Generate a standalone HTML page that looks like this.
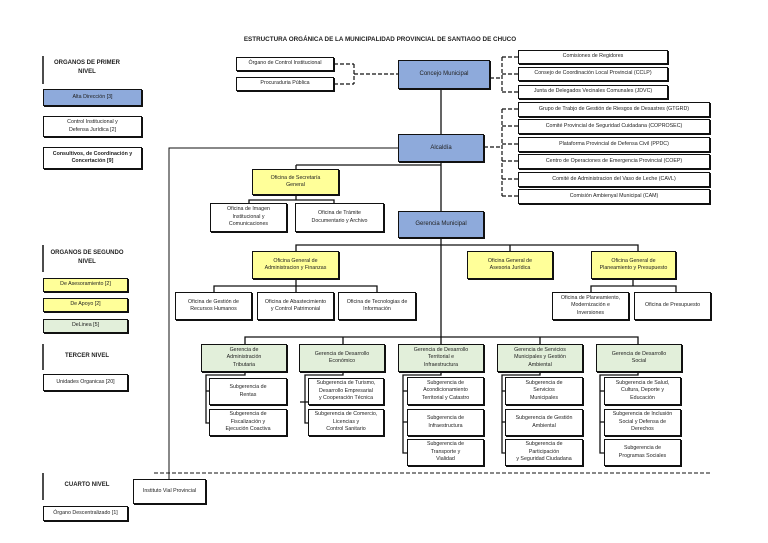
<!DOCTYPE html>
<html><head><meta charset="utf-8"><style>
*{margin:0;padding:0;box-sizing:border-box}
body{width:768px;height:543px;background:#fff;position:relative;overflow:hidden;font-family:"Liberation Sans",sans-serif;color:#222}
.b{position:absolute;border:1px solid #111;box-shadow:1px 1px 0 #111;background:#fff;display:flex;align-items:center;justify-content:center;text-align:center;font-size:5.3px;line-height:1.4;padding:0 1px;z-index:2}
.bl{background:#8eaadb;font-size:6px}
.y{background:#ffff99}
.g{background:#e2efda}
.t{position:absolute;font-size:6px;font-weight:bold;text-align:center;z-index:2;line-height:1.5}
svg{position:absolute;left:0;top:0;z-index:1}
</style></head><body>
<svg width="768" height="543" stroke="#111" fill="none">
<!-- legend bars -->
<g stroke-width="1.5">
<line x1="43" y1="56" x2="43" y2="84"/><line x1="43" y1="245" x2="43" y2="272"/>
<line x1="43" y1="344" x2="43" y2="370"/><line x1="43" y1="473" x2="43" y2="500"/>
</g>
<!-- dashed top-left -->
<g stroke-width="1.2" stroke-dasharray="4,2">
<line x1="334" y1="64" x2="354" y2="64"/><line x1="334" y1="84" x2="354" y2="84"/>
<line x1="354" y1="64" x2="354" y2="84"/><line x1="354" y1="74" x2="398" y2="74"/>
<line x1="490" y1="78" x2="502" y2="78"/><line x1="502" y1="57" x2="502" y2="92"/>
<line x1="502" y1="57" x2="518" y2="57"/><line x1="502" y1="74" x2="518" y2="74"/><line x1="502" y1="92" x2="518" y2="92"/>
<line x1="484" y1="147" x2="502" y2="147"/><line x1="502" y1="109" x2="502" y2="196"/>
<line x1="502" y1="109" x2="518" y2="109"/><line x1="502" y1="126" x2="518" y2="126"/><line x1="502" y1="144" x2="518" y2="144"/>
<line x1="502" y1="161" x2="518" y2="161"/><line x1="502" y1="179" x2="518" y2="179"/><line x1="502" y1="196" x2="518" y2="196"/>
<line x1="154" y1="473" x2="712" y2="473" stroke-width="1"/>
</g>
<g stroke-width="1.3">
<line x1="441" y1="89" x2="441" y2="134"/><line x1="441" y1="162" x2="441" y2="211"/><line x1="441" y1="238" x2="441" y2="344"/>
<polyline points="169,479 169,148 398,148" stroke-width="1"/>
<line x1="296" y1="165" x2="441" y2="165"/><line x1="296" y1="165" x2="296" y2="169"/>
<polyline points="249,203 249,200 334,200 334,203"/><line x1="296" y1="195" x2="296" y2="200"/>
<polyline points="296,251 296,245 638,245 638,251"/><line x1="510" y1="245" x2="510" y2="251"/>
<polyline points="214,292 214,286 377,286 377,292"/><line x1="296" y1="279" x2="296" y2="286"/><line x1="296" y1="286" x2="296" y2="292"/>
<polyline points="591,292 591,286 676,286 676,292"/><line x1="633" y1="279" x2="633" y2="286"/>
<polyline points="245,344 245,337 638,337 638,344"/><line x1="343" y1="337" x2="343" y2="344"/><line x1="540" y1="337" x2="540" y2="344"/>
<!-- sub brackets -->
<polyline points="245,372 245,375 206,375 206,423 209,423"/><line x1="206" y1="391" x2="209" y2="391"/>
<polyline points="343,372 343,375 305,375 305,423 308,423"/><line x1="300" y1="402" x2="308" y2="402"/>
<polyline points="441,372 441,375 403,375 403,453 407,453"/><line x1="403" y1="391" x2="407" y2="391"/><line x1="403" y1="422" x2="407" y2="422"/>
<polyline points="540,372 540,375 502,375 502,453 505,453"/><line x1="502" y1="391" x2="505" y2="391"/><line x1="502" y1="422" x2="505" y2="422"/>
<polyline points="638,372 638,375 600,375 600,453 604,453"/><line x1="600" y1="391" x2="604" y2="391"/><line x1="600" y1="422" x2="604" y2="422"/>
</g>
</svg>

<div class="t" style="left:200px;top:35px;width:360px;font-size:6.3px">ESTRUCTURA ORGÁNICA DE LA MUNICIPALIDAD PROVINCIAL DE SANTIAGO DE CHUCO</div>

<div class="t" style="left:47px;top:59px;width:80px">ORGANOS DE PRIMER<br>NIVEL</div>
<div class="b bl" style="left:43px;top:89px;width:99px;height:17px;font-size:5.3px">Alta Dirección [3]</div>
<div class="b" style="left:43px;top:116px;width:99px;height:21px">Control Institucional y<br>Defensa Jurídica [2]</div>
<div class="b" style="left:43px;top:147px;width:99px;height:22px;font-weight:bold">Consultivos, de Coordinación y<br>Concertación [9]</div>
<div class="t" style="left:46px;top:249px;width:82px">ORGANOS DE SEGUNDO<br>NIVEL</div>
<div class="b y" style="left:43px;top:278px;width:85px;height:14px">De Asesoramiento [2]</div>
<div class="b y" style="left:43px;top:298px;width:85px;height:14px">De Apoyo [2]</div>
<div class="b g" style="left:43px;top:319px;width:85px;height:14px">DeLinea [5]</div>
<div class="t" style="left:46px;top:352px;width:82px">TERCER NIVEL</div>
<div class="b" style="left:43px;top:374px;width:85px;height:17px">Unidades Organicas [20]</div>
<div class="t" style="left:46px;top:481px;width:82px">CUARTO NIVEL</div>
<div class="b" style="left:43px;top:506px;width:85px;height:15px">Órgano Descentralizado [1]</div>

<div class="b" style="left:236px;top:57px;width:98px;height:14px">Órgano de Control Institucional</div>
<div class="b" style="left:236px;top:77px;width:98px;height:14px">Procuraduria Pública</div>
<div class="b bl" style="left:398px;top:60px;width:92px;height:29px">Concejo Municipal</div>
<div class="b" style="left:518px;top:50px;width:150px;height:14px">Comisiones de Regidores</div>
<div class="b" style="left:518px;top:67px;width:150px;height:14px">Consejo de Coordinación Local Provincial (CCLP)</div>
<div class="b" style="left:518px;top:85px;width:150px;height:14px">Junta de Delegados Vecinales Comunales (JDVC)</div>
<div class="b" style="left:518px;top:102px;width:192px;height:15px">Grupo de Trabjo de Gestión de Riesgos de Desastres (GTGRD)</div>
<div class="b" style="left:518px;top:119px;width:192px;height:15px">Comité Provincial de Seguridad Cuidadana (COPROSEC)</div>
<div class="b" style="left:518px;top:137px;width:192px;height:15px">Plataforma Provincial de Defensa Civil (PPDC)</div>
<div class="b" style="left:518px;top:154px;width:192px;height:15px">Centro de Operaciones de Emergencia Provincial (COEP)</div>
<div class="b" style="left:518px;top:172px;width:192px;height:15px">Comité de Administracion del Vaso de Leche (CAVL)</div>
<div class="b" style="left:518px;top:189px;width:192px;height:15px">Comisión Ambienyal Municipal (CAM)</div>
<div class="b bl" style="left:398px;top:134px;width:86px;height:28px">Alcaldía</div>
<div class="b y" style="left:252px;top:169px;width:87px;height:26px">Oficina de Secretaría<br>General</div>
<div class="b" style="left:210px;top:203px;width:77px;height:29px">Oficina de Imagen<br>Institucional y<br>Comunicaciones</div>
<div class="b" style="left:295px;top:203px;width:89px;height:29px">Oficina de Trámite<br>Documentario y Archivo</div>
<div class="b bl" style="left:398px;top:211px;width:86px;height:27px">Gerencia Municipal</div>

<div class="b y" style="left:252px;top:251px;width:87px;height:28px">Oficina General de<br>Administracion y Finanzas</div>
<div class="b y" style="left:467px;top:251px;width:86px;height:28px">Oficina General de<br>Asesoria Jurídica</div>
<div class="b y" style="left:591px;top:251px;width:85px;height:28px">Oficina General de<br>Planeamiento y Presupuesto</div>
<div class="b" style="left:175px;top:292px;width:77px;height:28px">Oficina de Gestión de<br>Recursos Humanos</div>
<div class="b" style="left:257px;top:292px;width:77px;height:28px">Oficina de Abastecimiento<br>y Control Patrimonial</div>
<div class="b" style="left:338px;top:292px;width:78px;height:28px">Oficina de Tecnologias de<br>Información</div>
<div class="b" style="left:552px;top:292px;width:77px;height:28px">Oficina de Planeamiento,<br>Modernización e<br>Inversiones</div>
<div class="b" style="left:634px;top:292px;width:77px;height:28px">Oficina de Presupuesto</div>

<div class="b g" style="left:201px;top:344px;width:86px;height:28px">Gerencia de<br>Administración<br>Tributaria</div>
<div class="b g" style="left:299px;top:344px;width:86px;height:28px">Gerencia de Desarrollo<br>Económico</div>
<div class="b g" style="left:398px;top:344px;width:86px;height:28px">Gerencia de Desarrollo<br>Territorial e<br>Infraestructura</div>
<div class="b g" style="left:497px;top:344px;width:86px;height:28px">Gerencia de Servicios<br>Municipales y Gestión<br>Ambiental</div>
<div class="b g" style="left:596px;top:344px;width:86px;height:28px">Gerencia de Desarrollo<br>Social</div>

<div class="b" style="left:209px;top:378px;width:78px;height:27px">Subgerencia de<br>Rentas</div>
<div class="b" style="left:209px;top:409px;width:78px;height:27px">Subgerencia de<br>Fiscalización y<br>Ejecución Coactiva</div>
<div class="b" style="left:308px;top:378px;width:76px;height:27px">Subgerencia de Turismo,<br>Desarrollo Empresarial<br>y Cooperación Técnica</div>
<div class="b" style="left:308px;top:409px;width:76px;height:27px">Subgerencia de Comercio,<br>Licencias y<br>Control Sanitario</div>
<div class="b" style="left:407px;top:377px;width:77px;height:28px">Subgerencia de<br>Acondicionamiento<br>Territorial y Catastro</div>
<div class="b" style="left:407px;top:409px;width:77px;height:27px">Subgerencia de<br>Infraestructura</div>
<div class="b" style="left:407px;top:439px;width:77px;height:27px">Subgerencia de<br>Transporte y<br>Vialidad</div>
<div class="b" style="left:505px;top:377px;width:78px;height:28px">Subgerencia de<br>Servicios<br>Municipales</div>
<div class="b" style="left:505px;top:409px;width:78px;height:27px">Subgerencia de Gestión<br>Ambiental</div>
<div class="b" style="left:505px;top:439px;width:78px;height:27px">Subgerencia de<br>Participación<br>y Seguridad Ciudadana</div>
<div class="b" style="left:604px;top:377px;width:77px;height:28px">Subgerencia de Salud,<br>Cultura, Deporte y<br>Educación</div>
<div class="b" style="left:604px;top:409px;width:77px;height:27px">Subgerencia de Inclusión<br>Social y Defensa de<br>Derechos</div>
<div class="b" style="left:604px;top:439px;width:77px;height:27px">Subgerencia de<br>Programas Sociales</div>

<div class="b" style="left:133px;top:479px;width:73px;height:25px">Instituto Vial Provincial</div>
</body></html>
